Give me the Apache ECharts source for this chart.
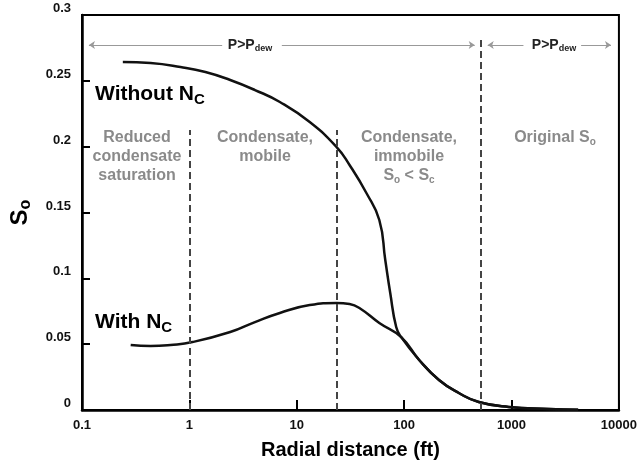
<!DOCTYPE html>
<html>
<head>
<meta charset="utf-8">
<script src="https://cdn.jsdelivr.net/npm/echarts@6/dist/echarts.min.js"></script>
<style>
  html, body { margin: 0; padding: 0; background: #fff; }
  #chart { width: 640px; height: 465px; }
</style>
</head>
<body>
<div id="chart"></div>
<script>
// Oil saturation profile vs radial distance (log scale)
const xTickLabels = ['0.1', '1', '10', '100', '1000', '10000'];

// Radial distance (ft) and So, without capillary number effect
const withoutNcX = [0.24, 0.435, 0.826, 1.41, 2.4, 4.08, 6.96, 13.2, 23.5, 31.0, 44.5, 58.7, 66.7, 74.2, 84.3, 93.8, 138, 211, 323, 495, 938, 2200, 4170];
const withoutNcY = [0.2643, 0.2635, 0.2605, 0.2567, 0.2506, 0.243, 0.2339, 0.2187, 0.1997, 0.1861, 0.1648, 0.1443, 0.1139, 0.0889, 0.063, 0.0554, 0.038, 0.0228, 0.0129, 0.0061, 0.0023, 0.0008, 0.0002];

// Radial distance (ft) and So, with capillary number effect
const withNcX = [0.284, 0.435, 0.667, 1.07, 2.4, 4.08, 6.96, 13.2, 23.5, 31.0, 38.3, 58.7, 93.8, 138, 211, 323, 495, 938, 2200, 4170];
const withNcY = [0.0494, 0.0486, 0.0494, 0.0516, 0.0592, 0.0668, 0.0737, 0.0797, 0.0813, 0.0805, 0.0775, 0.0661, 0.0554, 0.038, 0.0228, 0.0129, 0.0061, 0.0023, 0.0008, 0.0002];

// Region boundaries (ft) and the top of each dashed boundary (So)
const boundaryX = [1, 23.5, 516];
const boundaryTop = [0.2127, 0.2127, 0.2825];

// Pressure-region arrows: [start, end] in ft, at So level
const arrowY = 0.2772;
const arrowSegments = [
  [0.116, 2.02, 'start'], [7.26, 454, 'end'],
  [600, 1291, 'start'], [4446, 8433, 'end']
];

const FONT = '"Liberation Sans", Arial, sans-serif';

const pairs = (xs, ys) => xs.map((x, i) => [x, ys[i]]);

const boundaryLines = boundaryX.map((x, i) => [
  { coord: [x, 0] },
  { coord: [x, boundaryTop[i]] }
]);

const arrowLines = arrowSegments.map(([a, b, side]) => [
  { coord: [a, arrowY], symbol: side === 'start' ? 'arrow' : 'none', symbolSize: 6 },
  { coord: [b, arrowY], symbol: side === 'end' ? 'arrow' : 'none', symbolSize: 6 }
]);

const chart = echarts.init(document.getElementById('chart'), null, { renderer: 'canvas' });

const regionStyle = {
  fill: '#8a8a8a',
  font: 'bold 16px ' + FONT,
  align: 'center',
  verticalAlign: 'top',
  lineHeight: 19,
  rich: {
    n: { fontSize: 16, fontWeight: 'bold', fontFamily: FONT, fill: '#8a8a8a', lineHeight: 19 },
    sb: { fontSize: 10, fontWeight: 'bold', fontFamily: FONT, fill: '#8a8a8a', verticalAlign: 'bottom', lineHeight: 14 }
  }
};

function regionText(x, y, text) {
  return { type: 'text', silent: true, style: Object.assign({}, regionStyle, { x: x, y: y, text: text }) };
}

function curveLabel(x, y, text) {
  return {
    type: 'text', silent: true,
    style: {
      x: x, y: y, text: text,
      align: 'left', verticalAlign: 'middle',
      rich: {
        m: { fontSize: 21, fontWeight: 'bold', fontFamily: FONT, fill: '#000', lineHeight: 26 },
        sb: { fontSize: 15, fontWeight: 'bold', fontFamily: FONT, fill: '#000', verticalAlign: 'bottom', lineHeight: 17 }
      }
    }
  };
}

function pressureLabel(x, y) {
  return {
    type: 'text', silent: true,
    style: {
      x: x, y: y, text: '{p|P>P}{d|dew}',
      align: 'center', verticalAlign: 'middle',
      rich: {
        p: { fontSize: 14, fontWeight: 'bold', fontFamily: FONT, fill: '#222', lineHeight: 16 },
        d: { fontSize: 9, fontWeight: 'bold', fontFamily: FONT, fill: '#222', verticalAlign: 'bottom', lineHeight: 12 }
      }
    }
  };
}

chart.setOption({
  animation: false,
  backgroundColor: '#fff',
  grid: {
    left: 81, right: 19, top: 15, bottom: 55,
    show: true, borderColor: '#000', borderWidth: 2, backgroundColor: 'transparent'
  },
  xAxis: {
    type: 'log', logBase: 10, min: 0.1, max: 10000,
    name: 'Radial distance (ft)',
    nameLocation: 'middle', nameGap: 30,
    nameTextStyle: { fontFamily: FONT, fontWeight: 'bold', fontSize: 20, color: '#000' },
    axisLine: { lineStyle: { color: '#000', width: 2.5 } },
    axisTick: { inside: true, length: 10, lineStyle: { color: '#000', width: 2 } },
    minorTick: { show: false },
    splitLine: { show: false },
    axisLabel: {
      margin: 9,
      fontFamily: FONT, fontWeight: 'bold', fontSize: 13, color: '#111',
      formatter: v => {
        const i = Math.round(Math.log10(v)) + 1;
        return xTickLabels[i] !== undefined ? xTickLabels[i] : '';
      }
    }
  },
  yAxis: {
    type: 'value', min: 0, max: 0.3, interval: 0.05,
    name: '{s|S}{o|o}',
    nameLocation: 'middle', nameRotate: 90, nameGap: 48,
    nameTextStyle: {
      rich: {
        s: { fontSize: 24, fontWeight: 'bold', fontFamily: FONT, color: '#000', lineHeight: 28 },
        o: { fontSize: 16, fontWeight: 'bold', fontFamily: FONT, color: '#000', verticalAlign: 'bottom', lineHeight: 20 }
      }
    },
    axisLine: { show: true, lineStyle: { color: '#000', width: 2.5 } },
    axisTick: { show: true, inside: true, length: 8, lineStyle: { color: '#000', width: 2 } },
    splitLine: { show: false },
    axisLabel: {
      margin: 11, verticalAlign: 'bottom',
      fontFamily: FONT, fontWeight: 'bold', fontSize: 13, color: '#111'
    }
  },
  series: [
    {
      name: 'Without Nc', type: 'line',
      data: pairs(withoutNcX, withoutNcY),
      showSymbol: false, smooth: 0.5,
      lineStyle: { color: '#111', width: 2.5 },
      markLine: {
        silent: true, animation: false,
        label: { show: false },
        symbol: 'none',
        lineStyle: { color: '#444', width: 2, type: [7, 4] },
        data: boundaryLines
      },
      z: 3
    },
    {
      name: 'With Nc', type: 'line',
      data: pairs(withNcX, withNcY),
      showSymbol: false, smooth: 0.5,
      lineStyle: { color: '#111', width: 2.5 },
      markLine: {
        silent: true, animation: false,
        label: { show: false },
        lineStyle: { color: '#999', width: 1, type: 'solid' },
        data: arrowLines
      },
      z: 3
    }
  ],
  graphic: [
    pressureLabel(250, 45),
    pressureLabel(554, 45),
    curveLabel(95, 94, '{m|Without N}{sb|C}'),
    curveLabel(95, 322, '{m|With N}{sb|C}'),
    regionText(137, 128, '{n|Reduced}\n{n|condensate}\n{n|saturation}'),
    regionText(265, 128, '{n|Condensate,}\n{n|mobile}'),
    regionText(409, 128, '{n|Condensate,}\n{n|immobile}\n{n|S}{sb|o}{n| < S}{sb|c}'),
    regionText(555, 128, '{n|Original S}{sb|o}')
  ]
});
</script>
</body>
</html>
